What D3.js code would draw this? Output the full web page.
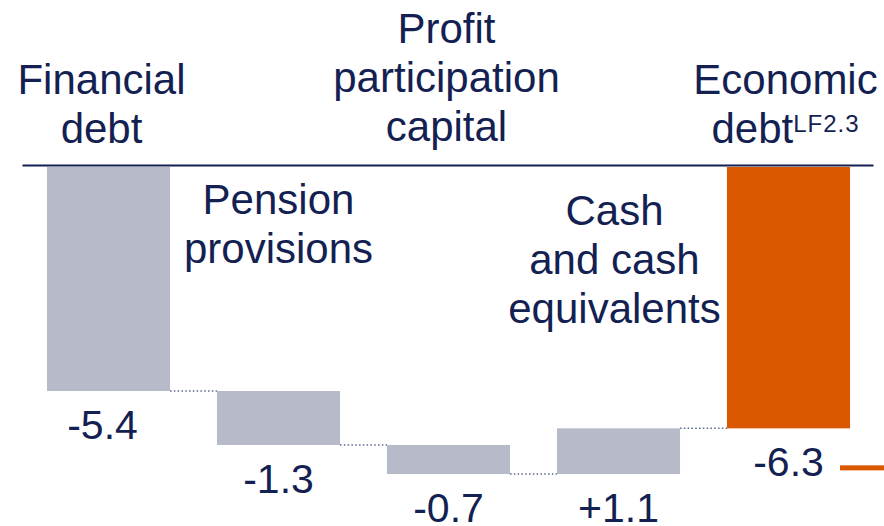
<!DOCTYPE html>
<html>
<head>
<meta charset="utf-8">
<script src="https://cdn.jsdelivr.net/npm/d3@7"></script>
<style>
  body { margin: 0; background: #fff; }
  svg text { font-family: "Liberation Sans", Arial, sans-serif; fill: #141f52; }
</style>
</head>
<body>
<div id="chart"></div>
<script>
// data
var categories = ["Financial debt", "Pension provisions", "Profit participation capital", "Cash and cash equivalents", "Economic debt"];
var labelLines = [["Financial", "debt"], ["Pension", "provisions"], ["Profit", "participation", "capital"], ["Cash", "and cash", "equivalents"], ["Economic", "debt"]];
var changes = [-5.4, -1.3, -0.7, 1.1, null];   // null = total bar
var valueLabels = ["-5.4", "-1.3", "-0.7", "+1.1", "-6.3"];
var footnote = "LF2.3";

// layout of the text blocks (first baseline, small x nudge)
var labelTop = [94, 214, 43, 225, 94];
var labelDx = [-7, 0, -2, -4, -3];
var lineHeight = 49;

var width = 884, height = 526;
var grey = "#b7bbc9", orange = "#d95800", navy = "#141f52";

// running totals -> start/end of each bar
var run = 0;
var bars = categories.map(function(c, i) {
  var start, end;
  if (changes[i] === null) { start = 0; end = run; }
  else { start = run; end = run + changes[i]; run = end; }
  return { cat: c, start: start, end: end, total: changes[i] === null, label: valueLabels[i], i: i };
});

var svg = d3.select("#chart").append("svg")
  .attr("width", width)
  .attr("height", height);

var x = d3.scaleBand()
  .domain(categories)
  .range([23.5, 873.5])
  .paddingInner(0.276)
  .paddingOuter(0.138);

var y = d3.scaleLinear()
  .domain([0, -7.4])
  .range([167, 474]);

// bars
svg.selectAll("rect.bar")
  .data(bars)
  .enter()
  .append("rect")
    .attr("class", "bar")
    .attr("x", function(d) { return x(d.cat); })
    .attr("y", function(d) { return y(Math.max(d.start, d.end)); })
    .attr("width", x.bandwidth())
    .attr("height", function(d) { return Math.abs(y(d.start) - y(d.end)); })
    .attr("fill", function(d) { return d.total ? orange : grey; });

// dotted connectors between bars
svg.selectAll("line.conn")
  .data(bars.slice(0, -1))
  .enter()
  .append("line")
    .attr("class", "conn")
    .attr("x1", function(d) { return x(d.cat) + x.bandwidth(); })
    .attr("x2", function(d) { return x(categories[d.i + 1]); })
    .attr("y1", function(d) { return y(d.end); })
    .attr("y2", function(d) { return y(d.end); })
    .attr("stroke", "#5b6690")
    .attr("stroke-width", 1.5)
    .attr("stroke-dasharray", "1.5,2.3");

// zero line
svg.append("line")
  .attr("x1", x.range()[0] - 1)
  .attr("x2", x.range()[1])
  .attr("y1", y(0) - 1.5)
  .attr("y2", y(0) - 1.5)
  .attr("stroke", navy)
  .attr("stroke-width", 2);

// value labels under the lower end of each bar
svg.selectAll("text.val")
  .data(bars)
  .enter()
  .append("text")
    .attr("class", "val")
    .attr("x", function(d) { return x(d.cat) + x.bandwidth() / 2 + (d.i === 0 ? -6 : 0); })
    .attr("y", function(d) { return y(Math.min(d.start, d.end)) + 48; })
    .attr("text-anchor", "middle")
    .style("font-size", "41px")
    .text(function(d) { return d.label; });

// little orange marker next to the total
var last = bars[bars.length - 1];
svg.append("rect")
  .attr("x", 840)
  .attr("y", y(last.end) + 37)
  .attr("width", 44)
  .attr("height", 5)
  .attr("fill", orange);

// category labels
bars.forEach(function(d) {
  var lines = labelLines[d.i];
  lines.forEach(function(line, k) {
    var t = svg.append("text")
      .attr("x", x(d.cat) + x.bandwidth() / 2 + labelDx[d.i])
      .attr("y", labelTop[d.i] + k * lineHeight)
      .attr("text-anchor", "middle")
      .style("font-size", "42px");
    t.append("tspan").text(line);
    if (d.total && k === lines.length - 1) {
      t.append("tspan")
        .attr("dy", -11)
        .style("font-size", "24px")
        .style("letter-spacing", "1px")
        .text(footnote);
    }
  });
});
</script>
</body>
</html>
